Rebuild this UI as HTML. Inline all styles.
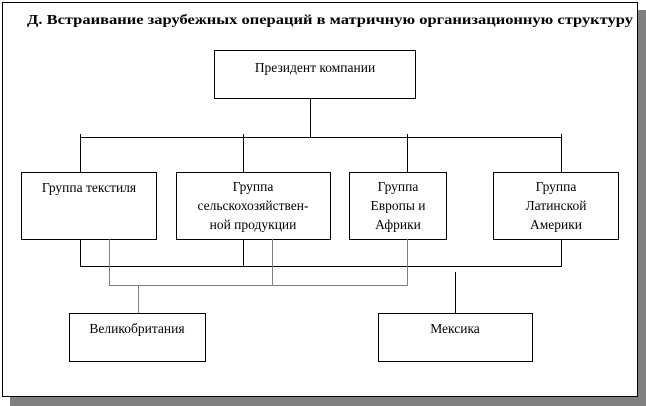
<!DOCTYPE html>
<html><head><meta charset="utf-8"><style>html,body{margin:0;padding:0;background:#fff}svg{display:block}text{font-family:"Liberation Serif",serif}</style></head><body>
<svg width="646" height="406" xmlns="http://www.w3.org/2000/svg" font-family="'Liberation Serif', serif" font-size="13.5">
<rect x="10" y="10" width="636" height="396" fill="#808080"/>
<rect x="2.5" y="2.5" width="635" height="394" fill="#fff" stroke="#000"/>
<text x="330" y="24" text-anchor="middle" font-weight="bold" font-size="14" textLength="606" lengthAdjust="spacingAndGlyphs">Д. Встраивание зарубежных операций в матричную организационную структуру</text>
<g fill="none" stroke="#000">
<rect x="214.5" y="50.5" width="201" height="48"/>
<rect x="21.5" y="172.5" width="135" height="67"/>
<rect x="176.5" y="172.5" width="154" height="67"/>
<rect x="349.5" y="172.5" width="97" height="67"/>
<rect x="493.5" y="172.5" width="125" height="67"/>
<rect x="69.5" y="313.5" width="136" height="48"/>
<rect x="378.5" y="313.5" width="154" height="48"/>
<path d="M310.5 98V137M80 137.5H561M80.5 134V172M243.5 134V172M407.5 134V172M561.5 134V172"/>
<path d="M80.5 239V266.5H561.5V239M243.5 239V266M455.5 272V313"/>
</g>
<g fill="none" stroke="#808080">
<path d="M109.5 239V285.5H407.5V239M272.5 239V285M138.5 285V313"/>
</g>
<g text-anchor="middle">
<text x="89" y="192">Группа текстиля</text>
<text x="315" y="72">Президент компании</text>
<text x="253" y="191">Группа</text>
<text x="253" y="210">сельскохозяйствен-</text>
<text x="253" y="229">ной продукции</text>
<text x="398" y="191">Группа</text>
<text x="398" y="210">Европы и</text>
<text x="398" y="229">Африки</text>
<text x="556" y="191">Группа</text>
<text x="556" y="210">Латинской</text>
<text x="556" y="229">Америки</text>
<text x="137" y="333">Великобритания</text>
<text x="455" y="333">Мексика</text>
</g>
</svg>
</body></html>
